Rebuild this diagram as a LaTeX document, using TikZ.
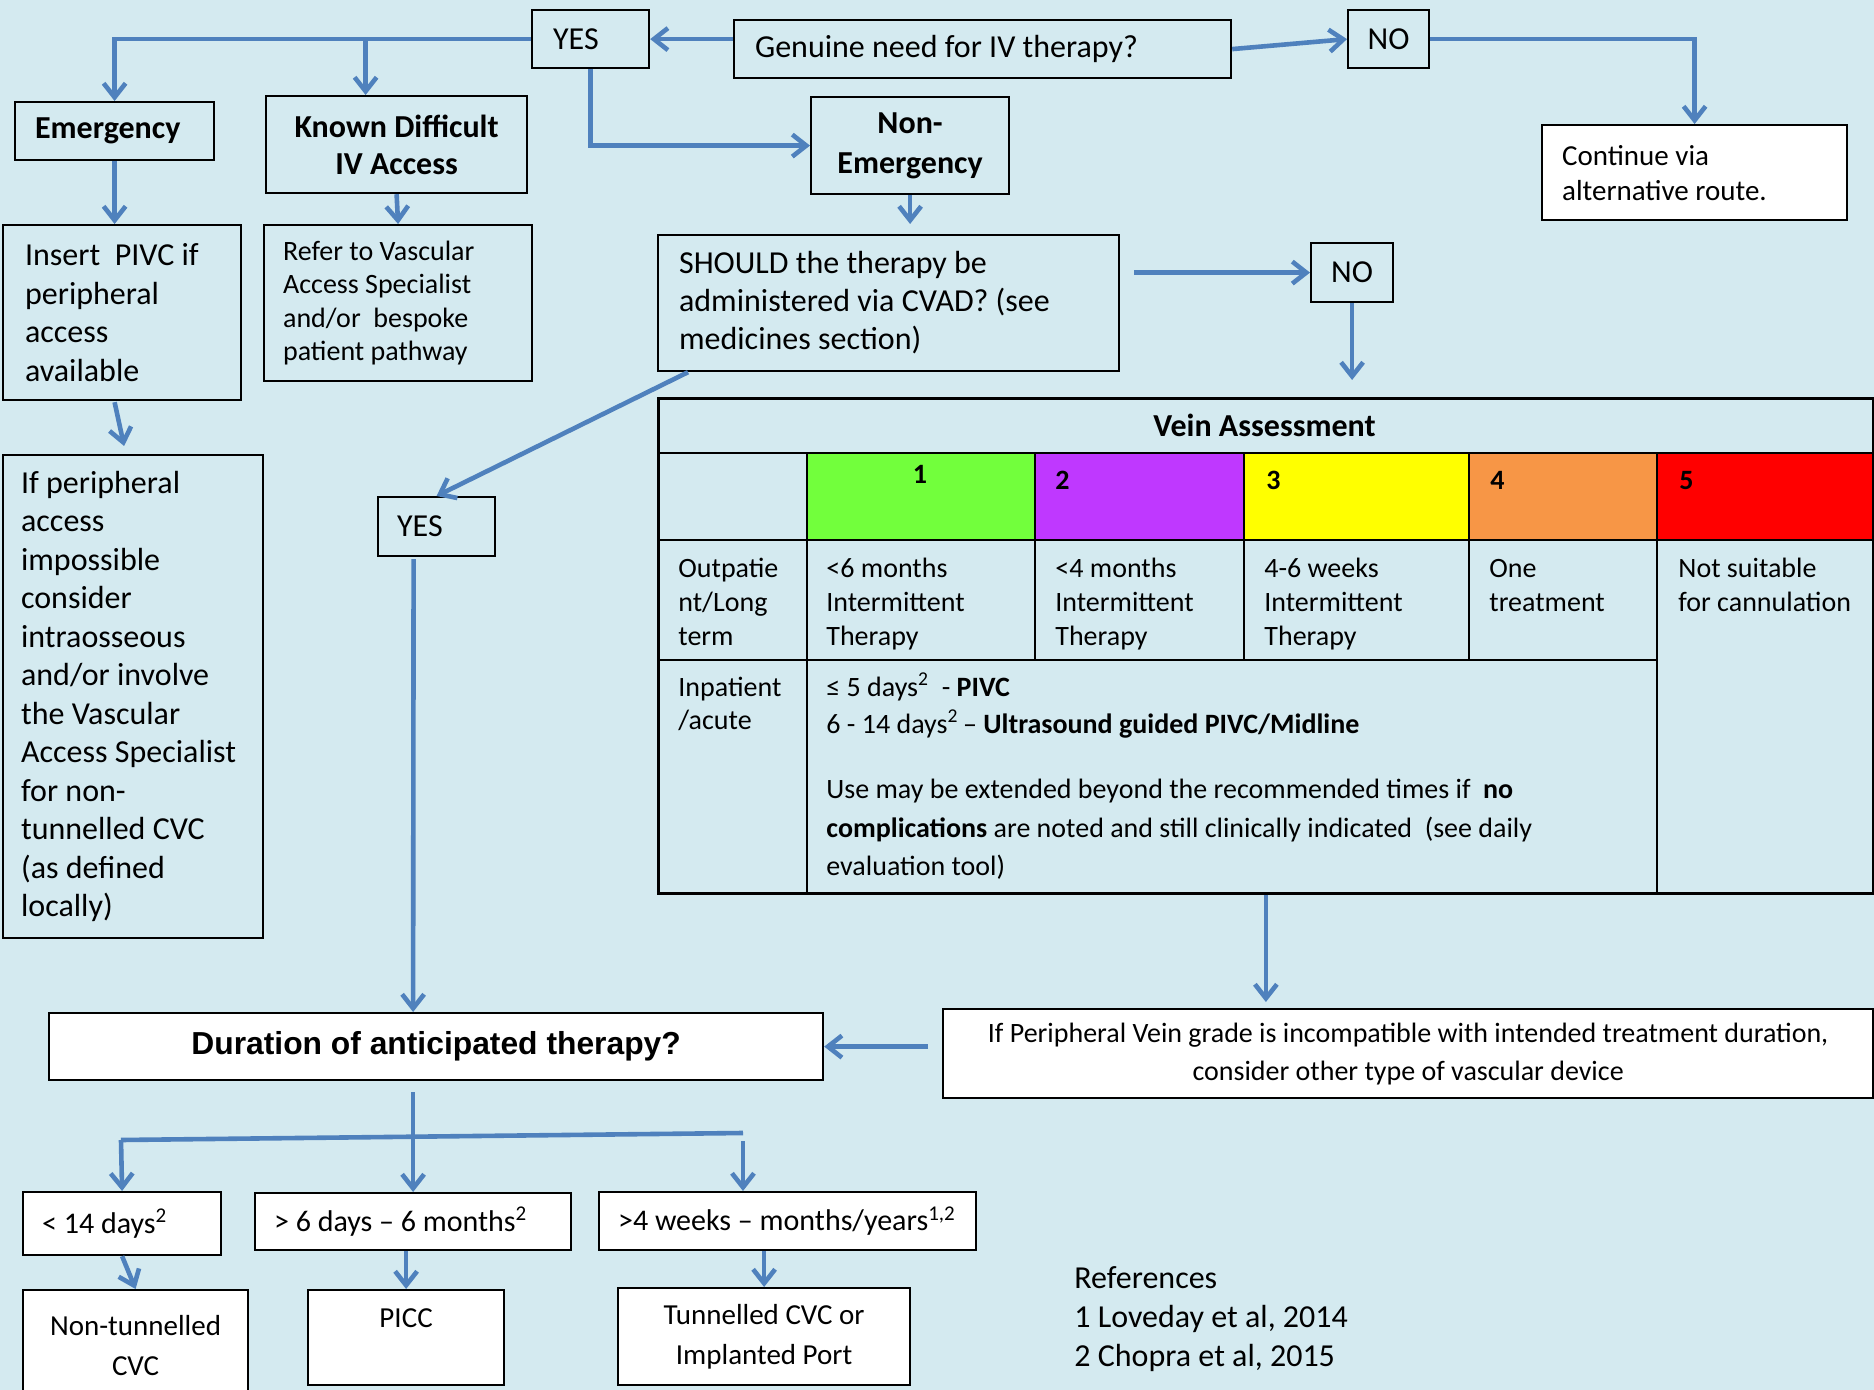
\documentclass[tikz,border=0pt]{standalone}
\usepackage{fontspec}
\setmainfont{Carlito}
\newfontfamily\arialfont{Liberation Sans}
\usetikzlibrary{arrows.meta,calc}
\definecolor{bgblue}{RGB}{212,234,240}
\definecolor{arrowblue}{RGB}{79,129,189}
\definecolor{vgreen}{RGB}{114,255,60}
\definecolor{vpurple}{RGB}{191,56,255}
\definecolor{vyellow}{RGB}{255,255,0}
\definecolor{vorange}{RGB}{247,150,70}
\definecolor{vred}{RGB}{255,0,0}
\newcommand\myfs[2]{\fontsize{#1}{#2}\selectfont}
\hyphenpenalty=10000
\exhyphenpenalty=10000
\begin{document}
\begin{tikzpicture}[x=0.5pt,y=-0.5pt,
 box/.style={draw=black,line width=1.1pt,inner sep=0pt,anchor=north west,font=\myfs{16}{19.5},
   execute at begin node={\spaceskip=0pt\xspaceskip=0pt\relax}},
 wbox/.style={box,fill=white},
 arr/.style={draw=arrowblue,line width=2.3pt,-{Straight Barb[length=7pt,width=11pt]}},
 ln/.style={draw=arrowblue,line width=2.3pt},
 tt/.style={anchor=base west,inner sep=0pt,font=\myfs{14}{17}},
 grid/.style={draw=black,line width=1.4pt},
]
\useasboundingbox (0,0) rectangle (1874,1390);
\clip (0,0) rectangle (1874,1390);
\fill[bgblue] (0,0) rectangle (1874,1390);

% ---------- top part ----------
\node[box,minimum width=58.5pt,minimum height=29pt,text width=37.5pt,inner xsep=10.5pt,align=left] (yes1) at (531,9) {YES};
\node[box,minimum width=248.5pt,minimum height=29pt,text width=227.5pt,inner xsep=10.5pt,align=left] (genuine) at (733,19) {Genuine need for IV therapy?};
\node[box,minimum width=40.5pt,minimum height=29pt,align=center] (no1) at (1347,9) {NO};
\node[wbox,minimum width=152.5pt,minimum height=47.5pt,text width=132.5pt,inner xsep=10pt,align=left,font=\myfs{14.5}{17.5}] (cont) at (1541,124) {Continue via\\alternative route.};
\node[box,minimum width=99.5pt,minimum height=29pt,text width=79.5pt,inner xsep=10pt,align=left,font=\myfs{16}{19.5}\bfseries] (emerg) at (14,101) {Emergency};
\node[box,minimum width=130.5pt,minimum height=48.5pt,align=center,font=\myfs{16}{18.5}\bfseries] (known) at (265,95) {Known Difficult\\IV Access};
\node[box,minimum width=99pt,minimum height=48.5pt,align=center,font=\myfs{16}{20}\bfseries] (nonem) at (810,96) {Non-\\Emergency};
\node[box,minimum width=119pt,minimum height=87.5pt,text width=97pt,inner xsep=11pt,align=left,font=\myfs{16}{19.2}] (insert) at (2,224) {Insert\ \ PIVC if\\peripheral\\access\\available};
\node[box,minimum width=134pt,minimum height=78pt,text width=115pt,inner xsep=9.5pt,align=left,font=\myfs{14}{16.75}] (refer) at (263,224) {Refer to Vascular\\Access Specialist\\and/or\ \ bespoke\\patient pathway};
\node[box,minimum width=230.5pt,minimum height=68pt,text width=209.5pt,inner xsep=10.5pt,align=left,font=\myfs{16}{19}] (should) at (657,234) {SHOULD the therapy be\\administered via CVAD? (see\\medicines section)};
\node[box,minimum width=41pt,minimum height=29.5pt,align=center] (no2) at (1310,242) {NO};
\node[box,minimum width=130pt,minimum height=241.5pt,text width=112pt,inner xsep=9pt,align=left,font=\myfs{16}{19.25}] (ifbox) at (2,454) {If peripheral\\access\\impossible\\consider\\intraosseous\\and/or involve\\the Vascular\\Access Specialist\\for non-\\tunnelled CVC\\(as defined\\locally)};
\node[box,minimum width=58.5pt,minimum height=29.5pt,text width=39.5pt,inner xsep=9.5pt,align=left] (yes2) at (377,496) {YES};

% ---------- vein assessment table ----------
\fill[vgreen] (807,453) rectangle (1035,540);
\fill[vpurple] (1035,453) rectangle (1244,540);
\fill[vyellow] (1244,453) rectangle (1469,540);
\fill[vorange] (1469,453) rectangle (1657,540);
\fill[vred] (1657,453) rectangle (1872,540);
\node[box,line width=1.4pt,minimum width=607.5pt,minimum height=247.5pt] (vein) at (657,397) {};
\draw[grid] (657,453) -- (1872,453);
\draw[grid] (657,540) -- (1872,540);
\draw[grid] (657,660) -- (1657,660);
\draw[grid] (807,453) -- (807,892);
\draw[grid] (1035,453) -- (1035,660);
\draw[grid] (1244,453) -- (1244,660);
\draw[grid] (1469,453) -- (1469,660);
\draw[grid] (1657,453) -- (1657,892);

\node[anchor=base,inner sep=0pt,font=\myfs{16}{19}\bfseries] (vtitle) at (1264.5,437) {Vein Assessment};
\node[anchor=base,inner sep=0pt,font=\myfs{14}{17}\bfseries] (g1) at (920,484) {1};
\node[tt,font=\myfs{14}{17}\bfseries] (g2) at (1055,489) {2};
\node[tt,font=\myfs{14}{17}\bfseries] (g3) at (1266,489) {3};
\node[tt,font=\myfs{14}{17}\bfseries] (g4) at (1490,489) {4};
\node[tt,font=\myfs{14}{17}\bfseries] (g5) at (1679,489) {5};

\node[tt] (a1) at (678,577) {Outpatie};
\node[tt] (a2) at (678,611) {nt/Long};
\node[tt] (a3) at (678,645) {term};
\node[tt] (b1) at (826,577) {<6 months};
\node[tt] (b2) at (826,611) {Intermittent};
\node[tt] (b3) at (826,645) {Therapy};
\node[tt] (c1) at (1055,577) {<4 months};
\node[tt] (c2) at (1055,611) {Intermittent};
\node[tt] (c3) at (1055,645) {Therapy};
\node[tt] (d1) at (1264,577) {4-6 weeks};
\node[tt] (d2) at (1264,611) {Intermittent};
\node[tt] (d3) at (1264,645) {Therapy};
\node[tt] (e1) at (1489,577) {One};
\node[tt] (e2) at (1489,611) {treatment};
\node[tt] (f1) at (1678,577) {Not suitable};
\node[tt] (f2) at (1678,611) {for cannulation};

\node[tt] (h1) at (678,696) {Inpatient};
\node[tt] (h2) at (678,729) {/acute};
\node[tt] (i1) at (826,696) {≤ 5 days\textsuperscript{2}\ \ - \textbf{PIVC}};
\node[tt] (i2) at (826,733) {6 - 14 days\textsuperscript{2}\,– \textbf{Ultrasound guided PIVC/Midline}};
\node[tt] (i3) at (826,798) {Use may be extended beyond the recommended times if\ \ \textbf{no}};
\node[tt] (i4) at (826,837) {\textbf{complications} are noted and still clinically indicated\ \ (see daily};
\node[tt] (i5) at (826,875) {evaluation tool)};

% ---------- lower part ----------
\node[wbox,minimum width=387pt,minimum height=33.5pt,align=center,font=\arialfont\myfs{15.9}{18}\bfseries] (duration) at (48,1012) {Duration of anticipated therapy?};
\node[wbox,minimum width=465pt,minimum height=44.5pt,align=center,font=\myfs{14}{19}] (ifp) at (942,1008) {If Peripheral Vein grade is incompatible with intended treatment duration,\\consider other type of vascular device};
\node[wbox,minimum width=99pt,minimum height=31.5pt,text width=80pt,inner xsep=9.5pt,align=left,font=\myfs{15}{18}] (short) at (22,1191) {< 14 days\textsuperscript{2}};
\node[wbox,minimum width=158pt,minimum height=28.5pt,text width=139pt,inner xsep=9.5pt,align=left,font=\myfs{15}{18}] (mid) at (254,1192) {> 6 days – 6 months\textsuperscript{2}};
\node[wbox,minimum width=188.5pt,minimum height=29pt,text width=174.5pt,inner xsep=7pt,align=left,font=\myfs{15}{18}] (long) at (598,1191) {\hspace*{2.5pt}>4 weeks – months/years\textsuperscript{1,2}};
\node[wbox,minimum width=112.5pt,minimum height=55.5pt,align=center,font=\myfs{14.5}{20}] (nontun) at (22,1289) {Non-tunnelled\\CVC};
\node[wbox,minimum width=98pt,minimum height=47.5pt,align=center,font=\myfs{14.5}{20}] (picc) at (307,1289) {PICC\\\mbox{}};
\node[wbox,minimum width=146pt,minimum height=48.5pt,align=center,font=\myfs{14.5}{20}] (tun) at (617,1287) {Tunnelled CVC or\\Implanted Port};
\node[anchor=north west,inner sep=0pt,align=left,font=\myfs{16}{19.5}] (refs) at (1074,1266) {References\\1 Loveday et al, 2014\\2 Chopra et al, 2015};

% ---------- connectors ----------
\coordinate (kx) at ($(known.north)+(-31,0)$);
\draw[arr] (yes1.west) -| (emerg.north);
\draw[arr] (kx |- yes1.west) -- (kx);
\draw[arr] (genuine.west |- yes1.east) -- (yes1.east);
\draw[arr] (genuine.east) -- (no1.west);
\draw[arr] (no1.east) -| (cont.north);
\draw[arr] (yes1.south) |- (nonem.west);
\draw[arr] (emerg.south) -- (emerg.south |- insert.north);
\draw[arr] (known.south) -- (refer.north);
\draw[arr] (nonem.south) -- ($(nonem.south |- should.north)+(0,-10)$);
\draw[arr] ($(emerg.south |- insert.south)+(0,1)$) -- ($(ifbox.north)+(-9,-8)$);
\draw[arr] ($(should.east |- no2.west)+(14,0)$) -- (no2.west);
\draw[arr] (no2.south) -- ($(no2.south |- vein.north)+(0,-17)$);
\draw[arr] ($(should.south west)+(31,0)$) -- (yes2.north);
\draw[arr] ($(yes2.south)+(-23,2)$) -- ($(duration.north)+(-23,0)$);
\draw[arr] (vein.south) -- ($(vein.south |- ifp.north)+(0,-6)$);
\draw[arr] ($(ifp.west |- duration.east)+(-14,0)$) -- (duration.east);
\draw[arr] ($(mid.north |- duration.south)+(0,11)$) -- (mid.north);
\coordinate (bl) at (121,1140);
\coordinate (br) at (743,1133);
\draw[ln] (bl) -- (br);
\draw[arr] (bl) -- (short.north);
\draw[arr] ($(br)+(0,8)$) -- (br |- long.north);
\draw[arr] (short.south) -- (nontun.north);
\draw[arr] (picc.north |- mid.south) -- (picc.north);
\draw[arr] (tun.north |- long.south) -- (tun.north);
\end{tikzpicture}
\end{document}
